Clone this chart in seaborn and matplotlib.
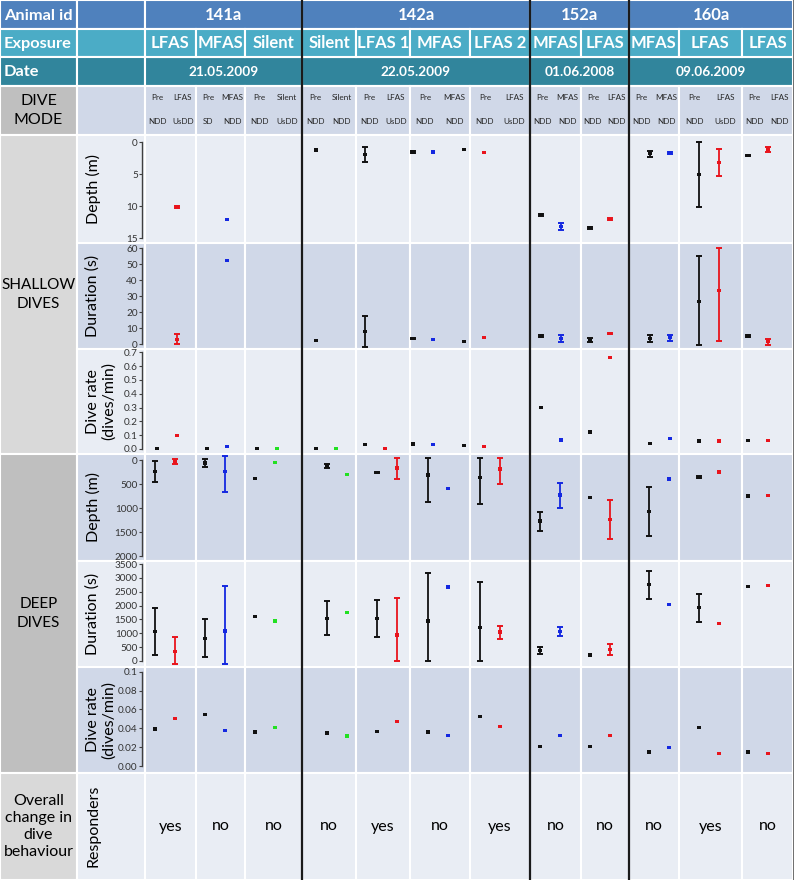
import numpy as np
import pandas as pd
import matplotlib.pyplot as plt
import seaborn as sns
from matplotlib.patches import Rectangle

# header / table content
animals = ['141a', '142a', '152a', '160a']
dates = ['21.05.2009', '22.05.2009', '01.06.2008', '09.06.2009']
exposures = ['LFAS', 'MFAS', 'Silent', 'Silent', 'LFAS 1', 'MFAS', 'LFAS 2',
             'MFAS', 'LFAS', 'MFAS', 'LFAS', 'LFAS']
exp_type = ['LFAS', 'MFAS', 'Silent', 'Silent', 'LFAS', 'MFAS', 'LFAS',
            'MFAS', 'LFAS', 'MFAS', 'LFAS', 'LFAS']
pre_mode = ['NDD', 'SD', 'NDD', 'NDD', 'NDD', 'NDD', 'NDD', 'NDD', 'NDD', 'NDD', 'NDD', 'NDD']
exp_mode = ['UsDD', 'NDD', 'UsDD', 'NDD', 'UsDD', 'NDD', 'UsDD', 'NDD', 'NDD', 'NDD', 'UsDD', 'NDD']
responders = ['yes', 'no', 'no', 'no', 'yes', 'no', 'yes', 'no', 'no', 'no', 'yes', 'no']

# values as (mean,) or (mean, low, high); None = not shown
N = None
sh_depth_pre = [N, N, N, (1.25,), (1.9, 0.75, 3.15), (1.55, 1.45, 1.65), (1.14,),
                (11.3, 11.15, 11.45), (13.3, 13.15, 13.45), (1.8, 1.35, 2.3),
                (5.1, 0.0, 10.1), (2.1, 2.0, 2.2)]
sh_depth_exp = [(10.1, 10.0, 10.2), (12.0,), N, N, N, (1.55,), (1.7,),
                (13.2, 12.65, 13.7), (12.0, 11.85, 12.15), (1.7, 1.6, 1.8),
                (3.2, 1.15, 5.3), (1.15, 0.75, 1.6)]

sh_dur_pre = [N, N, N, (2.1,), (7.7, -1.6, 17.6), (3.6, 3.2, 4.0), (1.7,),
              (5.0, 4.5, 5.5), (2.4, 1.1, 3.6), (3.4, 1.1, 5.8),
              (26.5, -0.8, 55.0), (5.0, 4.6, 5.4)]
sh_dur_exp = [(3.1, 0.2, 6.3), (52.2,), N, N, N, (2.7,), (3.8,),
              (3.3, 1.1, 5.4), (6.5, 6.0, 7.0), (3.8, 1.7, 5.8),
              (33.4, 1.7, 60.0), (1.5, -0.6, 3.3)]

sh_rate_pre = [(0.002,), (0.002,), (0.002,), (0.005,), (0.034,), (0.036,), (0.027,),
               (0.30,), (0.123,), (0.038,), (0.058,), (0.06,)]
sh_rate_exp = [(0.1,), (0.017,), (0.002,), (0.003,), (0.003,), (0.031,), (0.02,),
               (0.065,), (0.66,), (0.075,), (0.058,), (0.06,)]

dp_depth_pre = [(243, 15, 465), (63, -20, 146), (382,), (130, 90, 173), (257, 242, 272),
                (312, -35, 881), (368, -35, 923), (1271, 1077, 1479), (777,),
                (1069, 563, 1577), (361, 340, 382), (750,)]
dp_depth_exp = [(35, -15, 83), (243, -83, 673), (49,), (299,), (167, -48, 402), (590,),
                (187, -35, 494), (729, 473, 1000), (1236, 833, 1640), (396,), (250,), (743,)]

dp_dur_pre = [(1070, 217, 1923), (819, 144, 1504), (1600,), (1540, 938, 2165),
              (1527, 855, 2200), (1443, 0, 3186), (1203, 0, 2862), (373, 241, 505),
              (217,), (2766, 2237, 3259), (1923, 1407, 2429), (2681,)]
dp_dur_exp = [(337, -120, 877), (1082, -120, 2706), (1443,), (1757,), (938, 0, 2262),
              (2670,), (1046, 794, 1275), (1070, 902, 1239), (415, 205, 625),
              (2045,), (1360,), (2730,)]

dp_rate_pre = [(0.0392,), (0.0546,), (0.036,), (0.035,), (0.0368,), (0.036,), (0.0523,),
               (0.0209,), (0.0209,), (0.0148,), (0.0406,), (0.0148,)]
dp_rate_exp = [(0.0505,), (0.038,), (0.0406,), (0.0318,), (0.047,), (0.032,), (0.042,),
               (0.032,), (0.032,), (0.0194,), (0.0134,), (0.0134,)]

colors = {'Pre': '#111111', 'LFAS': '#E8141C', 'MFAS': '#1428E0', 'Silent': '#22E022'}

# layout in pixels
W, H = 794, 880
col_edges = [145, 196, 245, 302, 356, 410, 470, 530, 581, 629, 679, 742, 793]
animal_edges = [145, 302, 530, 629, 793]
pre_x_shallow = [157, 207, 257, 316, 365, 413, 464, 541, 590, 650, 699, 748]
pre_x_deep = [155, 205, 255, 327, 377, 428, 480, 540, 590, 649, 699, 748]

sns.set_theme(style='white')
plt.rcParams['font.family'] = ['Lato', 'DejaVu Sans']

fig = plt.figure(figsize=(W / 100, H / 100), dpi=100)
bg = fig.add_axes([0, 0, 1, 1])
bg.set_xlim(0, W)
bg.set_ylim(H, 0)
bg.axis('off')

LIGHT, DARK = '#E9EDF4', '#D0D8E8'
BLUE, CYAN, TEAL = '#4F81BD', '#4BACC6', '#31859C'
SEC = 11


def cell(x0, y0, x1, y1, fill, text=None, **kw):
    bg.add_patch(Rectangle((x0, y0), x1 - x0, y1 - y0, facecolor=fill,
                           edgecolor='white', lw=1.5))
    if text is not None:
        bg.text((x0 + x1) / 2, (y0 + y1) / 2, text, ha='center', va='center', **kw)


hdr = dict(color='white', fontweight='bold')

# header rows
for (y0, y1, col, label) in [(0, 29, BLUE, 'Animal id'), (29, 57, CYAN, 'Exposure'),
                             (57, 86, TEAL, 'Date')]:
    cell(0, y0, 77, y1, col)
    bg.text(4, (y0 + y1) / 2 + 1, label, ha='left', va='center', fontsize=11.8, **hdr)
    cell(77, y0, 145, y1, col)

for i, a in enumerate(animals):
    cell(animal_edges[i], 0, animal_edges[i + 1], 29, BLUE, a, fontsize=12, **hdr)
    cell(animal_edges[i], 57, animal_edges[i + 1], 86, TEAL, dates[i], fontsize=9.8, **hdr)
for i, e in enumerate(exposures):
    cell(col_edges[i], 29, col_edges[i + 1], 57, CYAN, e, fontsize=12, **hdr)

# dive mode row
cell(0, 86, 77, 135, '#BFBFBF', 'DIVE\nMODE', fontsize=11.5, color='black', linespacing=1.45)
cell(77, 86, 145, 135, DARK)
for i in range(12):
    x0, x1 = col_edges[i], col_edges[i + 1]
    cell(x0, 86, x1, 135, DARK)
    w = x1 - x0
    small = dict(fontsize=5.9, color='#262626', ha='center', va='center')
    bg.text(x0 + w * 0.25, 98, 'Pre', **small)
    bg.text(x0 + w * 0.74, 98, exp_type[i], **small)
    bg.text(x0 + w * 0.25, 122, pre_mode[i], **small)
    bg.text(x0 + w * 0.74, 122, exp_mode[i], **small)

# left section labels
cell(0, 135, 77, 454, '#D9D9D9', 'SHALLOW\nDIVES', fontsize=SEC, color='black', linespacing=1.5)
cell(0, 454, 77, 773, '#BFBFBF', 'DEEP\nDIVES', fontsize=SEC, color='black', linespacing=1.5)
cell(0, 773, 77, 880, '#D9D9D9', 'Overall\nchange in\ndive\nbehaviour', fontsize=11.5,
     color='black', linespacing=1.3)

# metric rows: (top, bottom, shade, label, ticks, tick format, px of first, px of last)
metric_rows = [
    (135, 243, LIGHT, 'Depth (m)', [0, 5, 10, 15], None, 142, 238.5),
    (243, 349, DARK, 'Duration (s)', list(range(0, 61, 10)), None, 344, 248.3),
    (349, 454, LIGHT, 'Dive rate\n(dives/min)', [round(0.1 * k, 1) for k in range(8)],
     '%.1f', 449, 352.3),
    (454, 561, DARK, 'Depth (m)', [0, 500, 1000, 1500, 2000], None, 460, 556),
    (561, 667, LIGHT, 'Duration (s)', list(range(0, 3501, 500)), None, 661, 564),
    (667, 773, DARK, 'Dive rate\n(dives/min)', [0.0, 0.02, 0.04, 0.06, 0.08, 0.1],
     'rate', 766, 671.7),
]
metric_data = [(sh_depth_pre, sh_depth_exp), (sh_dur_pre, sh_dur_exp),
               (sh_rate_pre, sh_rate_exp), (dp_depth_pre, dp_depth_exp),
               (dp_dur_pre, dp_dur_exp), (dp_rate_pre, dp_rate_exp)]

for r, (y0, y1, shade, label, ticks, fmt, p0, p1) in enumerate(metric_rows):
    cell(77, y0, 145, y1, shade)
    for i in range(12):
        cell(col_edges[i], y0, col_edges[i + 1], y1, shade)
    lx = 101 if '\n' in label else 93
    bg.text(lx, (y0 + y1) / 2, label, rotation=90, ha='center', va='center',
            fontsize=11.5, color='black', linespacing=1.15)

    pre, exp = metric_data[r]
    xs = pre_x_shallow if r < 3 else pre_x_deep
    recs = []
    for i in range(12):
        for cond, vals, x in (('Pre', pre[i], xs[i]), (exp_type[i], exp[i], xs[i] + 20)):
            if vals is None:
                continue
            lo = vals[1] if len(vals) > 1 else np.nan
            hi = vals[2] if len(vals) > 1 else np.nan
            recs.append(dict(x=x, y=vals[0], lo=lo, hi=hi, cond=cond))
    df = pd.DataFrame(recs)

    ax = fig.add_axes([142 / W, 1 - y1 / H, (793 - 142) / W, (y1 - y0) / H])
    ax.patch.set_alpha(0)
    for cond, g in df.dropna(subset=['lo']).groupby('cond'):
        ax.errorbar(g['x'], g['y'], yerr=[g['y'] - g['lo'], g['hi'] - g['y']], fmt='none',
                    ecolor=colors[cond], elinewidth=1.3, capsize=2.4, capthick=1.4)
    sns.scatterplot(data=df, x='x', y='y', hue='cond', palette=colors, marker='s', s=5,
                    linewidth=0, legend=False, ax=ax, zorder=3)

    # map pixel rows onto value range
    v0, v1 = ticks[0], ticks[-1]
    per_px = (v1 - v0) / (p1 - p0)
    ax.set_ylim(v0 + (y1 - p0) * per_px, v0 + (y0 - p0) * per_px)
    ax.set_xlim(142, 793)
    ax.set_xlabel('')
    ax.set_ylabel('')
    ax.set_xticks([])
    ax.set_yticks(ticks)
    if fmt == '%.1f':
        ax.set_yticklabels(['%.1f' % t for t in ticks])
    elif fmt == 'rate':
        ax.set_yticklabels(['0.00', '0.02', '0.04', '0.06', '0.08', '0.1'])
    else:
        ax.set_yticklabels([str(t) for t in ticks])
    for s in ['top', 'right', 'bottom']:
        ax.spines[s].set_visible(False)
    ax.spines['left'].set_color('#404040')
    ax.spines['left'].set_linewidth(1.0)
    ax.spines['left'].set_bounds(v0, v1)
    ax.tick_params(axis='y', left=True, length=2, width=0.8, color='#404040', pad=1,
                   labelsize=7.2, labelcolor='#333333')

# responders row
cell(77, 773, 145, 880, LIGHT)
bg.text(93, 826, 'Responders', rotation=90, ha='center', va='center', fontsize=11.5,
        color='black')
for i, resp in enumerate(responders):
    cell(col_edges[i], 773, col_edges[i + 1], 880, LIGHT, resp, fontsize=11.5,
         color='black')

# animal separators
for x in animal_edges[1:-1]:
    bg.plot([x, x], [0, H], color='#1a1a1a', lw=1.6, zorder=5)
bg.plot([793.5, 793.5], [0, H], color='#555555', lw=1.2, zorder=5)

fig.savefig('out.png', dpi=100)
